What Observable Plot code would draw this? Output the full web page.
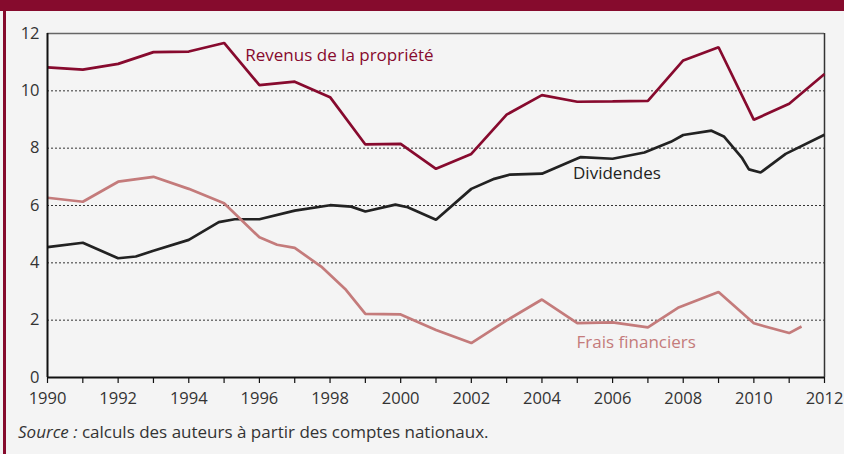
<!DOCTYPE html>
<html>
<head>
<meta charset="utf-8">
<script src="https://cdn.jsdelivr.net/npm/d3@7"></script>
<script src="https://cdn.jsdelivr.net/npm/@observablehq/plot@0.6"></script>
<style>
  html, body { margin: 0; padding: 0; background: #f4f4f4; }
  body { width: 844px; height: 454px; overflow: hidden; position: relative;
         font-family: "Open Sans", "Noto Sans", sans-serif; }
  #band { position: absolute; left: 0; top: 0; width: 844px; height: 11px; background: #860b2d; }
  #lborder { position: absolute; left: 3px; top: 0; width: 3px; height: 454px; background: #860b2d; }
  #chart svg { display: block; }
  #caption { height: 30px; line-height: 28px; padding-left: 18px; font-size: 17px; color: #333; }
</style>
</head>
<body>
<div id="chart"></div>
<div id="caption"><i>Source :</i> calculs des auteurs à partir des comptes nationaux.</div>
<div id="band"></div>
<div id="lborder"></div>
<script>
// Revenus de la propriété (annual)
const revYears  = [1990,1991,1992,1993,1994,1995,1996,1997,1998,1999,2000,2001,2002,2003,2004,2005,2006,2007,2008,2009,2010,2011,2012];
const revValues = [10.82,10.74,10.94,11.35,11.37,11.67,10.20,10.32,9.78,8.13,8.15,7.28,7.80,9.17,9.85,9.62,9.63,9.65,11.06,11.52,8.99,9.55,10.59];

// Dividendes
const divYears  = [1990,1991,1992,1992.5,1993,1994,1994.85,1995.3,1996,1997,1998,1998.6,1999,1999.85,2000.2,2001,2002,2002.65,2003.1,2004,2005.1,2006,2006.9,2007.65,2008,2008.8,2009.15,2009.67,2009.86,2010.19,2010.9,2012];
const divValues = [4.55,4.70,4.16,4.22,4.42,4.80,5.42,5.52,5.52,5.82,6.01,5.96,5.79,6.03,5.94,5.50,6.58,6.93,7.08,7.11,7.69,7.63,7.85,8.22,8.46,8.61,8.41,7.65,7.26,7.15,7.80,8.47];

// Frais financiers
const fraisYears  = [1990,1991,1992,1993,1994,1995,1996,1996.5,1997,1997.75,1998.45,1999,2000,2001,2002,2003,2004,2005,2006,2007,2007.85,2009,2010,2011,2011.35];
const fraisValues = [6.27,6.13,6.83,7.00,6.58,6.08,4.89,4.63,4.52,3.87,3.06,2.22,2.20,1.66,1.20,1.99,2.72,1.90,1.92,1.75,2.43,2.98,1.89,1.55,1.78];

const seriesNames  = ["Revenus de la propriété", "Dividendes", "Frais financiers"];
const seriesColors = ["#870a2e", "#222222", "#c47b7b"];

// Series label anchors (data coordinates)
const labelYears  = [1995.6, 2004.88, 2004.98];
const labelValues = [11.23, 7.13, 1.23];

const xTicksAll   = d3.range(1990, 2013, 1);
const xTickLabels = d3.range(1990, 2013, 2);
const yTickLabels = [0, 2, 4, 6, 8, 10, 12];
const gridValues  = [2, 4, 6, 8, 10];

const allSeries = [
  revYears.map((y, i) => ({year: y, value: revValues[i], s: seriesNames[0]})),
  divYears.map((y, i) => ({year: y, value: divValues[i], s: seriesNames[1]})),
  fraisYears.map((y, i) => ({year: y, value: fraisValues[i], s: seriesNames[2]}))
];
const labels = seriesNames.map((n, i) => ({name: n, year: labelYears[i], value: labelValues[i], color: seriesColors[i]}));

const chart = Plot.plot({
  width: 844,
  height: 418,
  marginTop: 33,
  marginBottom: 41,
  marginLeft: 47,
  marginRight: 20,
  style: {background: "transparent", fontFamily: "'Open Sans', 'Noto Sans', sans-serif", fontSize: "16px", color: "#333"},
  x: {domain: [1990, 2012], axis: null, label: null},
  y: {domain: [0, 12], axis: null, label: null},
  marks: [
    Plot.ruleY(gridValues, {stroke: "#333", strokeWidth: 1, strokeDasharray: "2,2"}),
    Plot.ruleY([12], {stroke: "#666", strokeWidth: 1.5}),
    Plot.ruleX([2012], {stroke: "#333", strokeWidth: 1.5}),
    ...allSeries.map((d, i) => Plot.line(d, {x: "year", y: "value", stroke: seriesColors[i], strokeWidth: 2.7, strokeLinejoin: "miter", strokeLinecap: "butt"})),
    Plot.ruleX([1990], {stroke: "#111", strokeWidth: 2}),
    Plot.ruleY([0], {stroke: "#111", strokeWidth: 2}),
    Plot.axisX(xTicksAll, {tickSize: 6, tickFormat: () => "", label: null, stroke: "#111", strokeWidth: 1.2}),
    Plot.axisX(xTickLabels, {tickSize: 0, tickPadding: 15, tickFormat: d => String(d), label: null, fill: "#333", fontSize: 16.5}),
    Plot.axisY(yTickLabels, {tickSize: 0, tickPadding: 8, tickFormat: d => String(d), label: null, fill: "#333", fontSize: 16.5}),
    Plot.text(labels, {x: "year", y: "value", text: "name", fill: "color", textAnchor: "start", fontSize: 17})
  ]
});
document.getElementById("chart").appendChild(chart);
</script>
</body>
</html>
